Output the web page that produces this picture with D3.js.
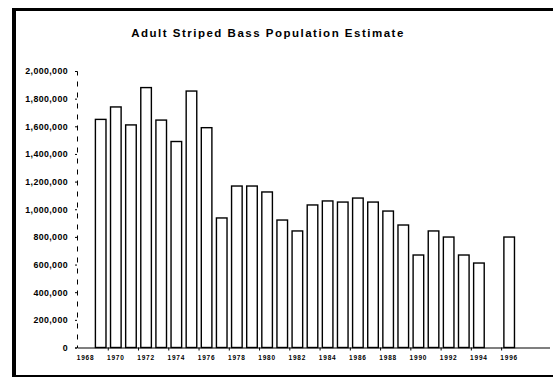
<!DOCTYPE html>
<html>
<head>
<meta charset="utf-8">
<script src="https://cdn.jsdelivr.net/npm/d3@7"></script>
<style>
  html, body { margin: 0; padding: 0; background: #fff; }
  svg { display: block; }
  text { font-family: "Liberation Sans", Arial, sans-serif; fill: #000; }
</style>
</head>
<body>
<svg id="chart" width="553" height="379"></svg>
<script>
// Survey years on the category axis (blank years have no estimate)
const years = [1968, 1969, 1970, 1971, 1972, 1973, 1974, 1975, 1976, 1977,
               1978, 1979, 1980, 1981, 1982, 1983, 1984, 1985, 1986, 1987,
               1988, 1989, 1990, 1991, 1992, 1993, 1994, 1995, 1996, 1997, 1998];

// Adult striped bass population estimate for each year
const population = [null, 1650000, 1740000, 1610000, 1880000, 1645000, 1490000, 1855000, 1590000, 937000,
                    1168000, 1168000, 1125000, 922000, 843000, 1031000, 1060000, 1052000, 1081000, 1052000,
                    987000, 886000, 669000, 843000, 799000, 669000, 611000, null, 799000, null, null];

// Labelled years (every other category)
const xTickYears = [1968, 1970, 1972, 1974, 1976, 1978, 1980, 1982, 1984, 1986, 1988, 1990, 1992, 1994, 1996];

// Value axis ticks
const yTicks = [0, 200000, 400000, 600000, 800000, 1000000, 1200000, 1400000, 1600000, 1800000, 2000000];

const svg = d3.select("#chart");

const x = d3.scaleBand().domain(years).range([78, 547]).paddingInner(0.3).paddingOuter(0.15);
const y = d3.scaleLinear().domain([0, 2000000]).range([347.5, 71]);

// Outer frame: heavy left edge, top and bottom rules
svg.append("line").attr("x1", 14).attr("x2", 14).attr("y1", 8).attr("y2", 377)
  .attr("stroke", "#000").attr("stroke-width", 4);
svg.append("line").attr("x1", 12).attr("x2", 553).attr("y1", 9.5).attr("y2", 9.5)
  .attr("stroke", "#000").attr("stroke-width", 3);
svg.append("line").attr("x1", 12).attr("x2", 553).attr("y1", 376).attr("y2", 376)
  .attr("stroke", "#000").attr("stroke-width", 2);

// Title
svg.append("text")
  .attr("x", 268).attr("y", 37)
  .attr("text-anchor", "middle")
  .style("font-size", "11.5px").style("font-weight", "bold").style("letter-spacing", "1.5px")
  .text("Adult Striped Bass Population Estimate");

// Value axis
const yAxis = d3.axisLeft(y)
  .tickValues(yTicks)
  .tickSize(2)
  .tickPadding(7)
  .tickFormat(d3.format(","));
const gy = svg.append("g").attr("transform", "translate(77,0)").call(yAxis);
gy.select(".domain").attr("stroke-dasharray", "5,6").attr("stroke-width", 1);
gy.selectAll("text")
  .style("font-size", "8.8px").style("font-weight", "bold").style("letter-spacing", "0.4px")
  .attr("font-family", null);

// Bars
svg.append("g").selectAll("rect")
  .data(years.map((yr, i) => ({ year: yr, value: population[i] })).filter(d => d.value !== null))
  .join("rect")
  .attr("x", d => x(d.year))
  .attr("y", d => y(d.value))
  .attr("width", x.bandwidth())
  .attr("height", d => y(0) - y(d.value))
  .attr("fill", "#fff")
  .attr("stroke", "#000")
  .attr("stroke-width", 1.4);

// Category axis
const xAxis = d3.axisBottom(x)
  .tickValues(xTickYears)
  .tickSize(0)
  .tickPadding(8);
const gx = svg.append("g").attr("transform", `translate(0,${y(0)})`).call(xAxis);
gx.select(".domain").attr("d", `M78,0.5H550`).attr("stroke-width", 1.2);
gx.selectAll("text")
  .style("font-size", "6.5px").style("font-weight", "bold").style("letter-spacing", "0.8px")
  .attr("font-family", null);

// Small marks under the baseline at the start of each labelled year
svg.append("g").selectAll("line")
  .data(xTickYears.slice(1))
  .join("line")
  .attr("x1", d => x(d) - x.step() * x.paddingInner() / 2)
  .attr("x2", d => x(d) - x.step() * x.paddingInner() / 2)
  .attr("y1", y(0)).attr("y2", y(0) + 3)
  .attr("stroke", "#000").attr("stroke-width", 1);
</script>
</body>
</html>
